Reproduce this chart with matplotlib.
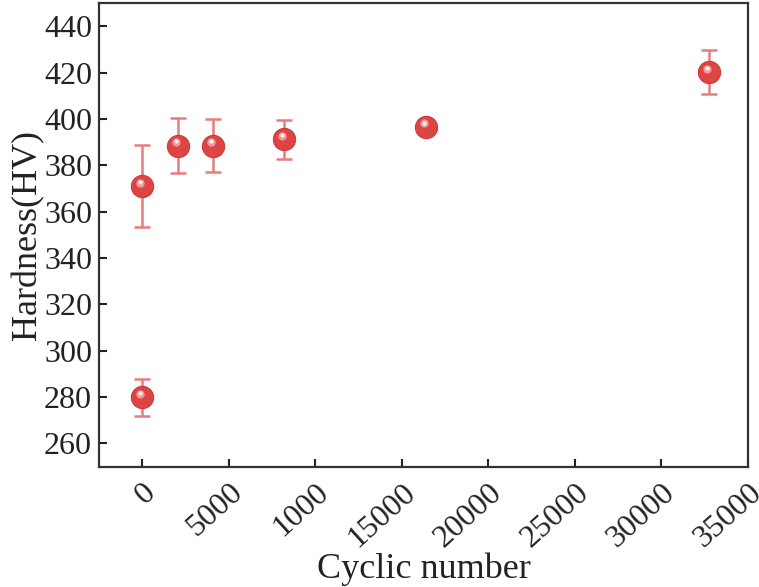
import matplotlib.pyplot as plt
import matplotlib.transforms as mtransforms

# cycles vs hardness
cycles = [0, 0, 2048, 4096, 8192, 16384, 32768]
hardness = [280, 371, 388.5, 388.5, 391.3, 396.6, 420.2]
hardness_err = [8, 17.6, 12, 11.3, 8.4, 2, 9.5]

xtick_vals = [0, 5000, 10000, 15000, 20000, 25000, 30000, 35000]
xtick_labels = ['0', '5000', '1000', '15000', '20000', '25000', '30000', '35000']
ytick_vals = [260, 280, 300, 320, 340, 360, 380, 400, 420, 440]

plt.rcParams['font.family'] = ['Liberation Serif', 'DejaVu Serif']

fig = plt.figure(figsize=(7.59, 5.87), dpi=100)
ax = fig.add_axes([0.1304, 0.205, 0.8551, 0.7899])

ax.errorbar(cycles, hardness, yerr=hardness_err, fmt='none',
            ecolor='#e77c7c', elinewidth=1.8, capsize=6, capthick=1.8, zorder=2)
# sphere look: red ball plus a soft highlight
ax.plot(cycles, hardness, 'o', ms=16, color='#de4444', mec='#d03a3a', mew=0.8, zorder=3)
hl = mtransforms.offset_copy(ax.transData, fig=fig, x=-1.5, y=2.5, units='points')
ax.plot(cycles, hardness, 'o', ms=6, color='#f3b0b0', alpha=0.8, mew=0,
        transform=hl, zorder=4)
hl2 = mtransforms.offset_copy(ax.transData, fig=fig, x=-1.5, y=3, units='points')
ax.plot(cycles, hardness, 'o', ms=3, color='white', alpha=0.9, mew=0,
        transform=hl2, zorder=5)

ax.set_xlim(-2500, 35000)
ax.set_ylim(250, 450)
ax.set_xticks(xtick_vals)
ax.set_xticklabels(xtick_labels, rotation=42, ha='right', va='top',
                   rotation_mode='anchor')
ax.set_yticks(ytick_vals)

ax.tick_params(direction='in', length=6, width=1.5, labelsize=23,
               colors='#222222', pad=5)
ax.tick_params(axis='x', pad=8)
for s in ax.spines.values():
    s.set_linewidth(1.6)
    s.set_color('#333333')

ax.set_xlabel('Cyclic number', fontsize=26, color='#222222', labelpad=0)
ax.set_ylabel('Hardness(HV)', fontsize=26, color='#222222', labelpad=0)

fig.savefig('out.png', dpi=100)
